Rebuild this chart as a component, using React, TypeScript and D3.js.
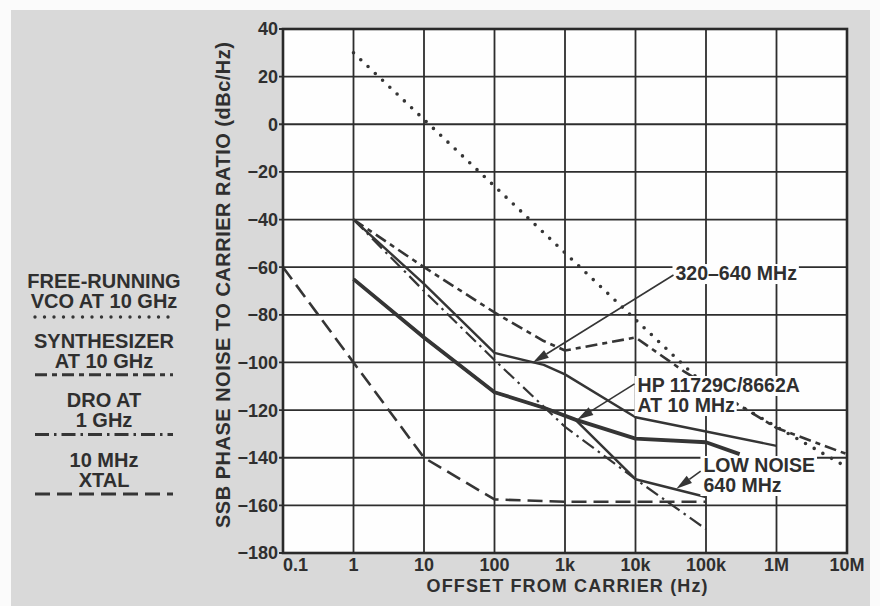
import React from "react";
import * as d3 from "d3";

// ---- axis ticks ----
const freqTicks = [0.1, 1, 10, 100, 1e3, 1e4, 1e5, 1e6, 1e7];
const freqTickLabels = ["0.1", "1", "10", "100", "1k", "10k", "100k", "1M", "10M"];
const noiseTicks = [40, 20, 0, -20, -40, -60, -80, -100, -120, -140, -160, -180];

// ---- series (offset Hz, dBc/Hz) ----
const vcoFreq = [1, 10, 100, 1e3, 1e4, 1e5, 1e6, 1e7];
const vcoNoise = [30, 2, -26, -54, -82, -110, -127, -144];

const synthFreq = [1, 10, 100, 500, 1e3, 1e4, 5e4, 1e6, 1e7];
const synthNoise = [-40, -60, -79, -91, -95, -89.5, -104, -127.5, -138.5];

const droFreq = [1, 10, 100, 1e3, 1e4, 1e5];
const droNoise = [-40, -70, -99, -127, -149, -170];

const xtalFreq = [0.1, 1, 10, 100, 1e3, 1e5];
const xtalNoise = [-60, -100, -140, -157.5, -158.5, -158.5];

const mhz320Freq = [1, 10, 100, 500, 1e3, 1e4, 1e5, 1e6];
const mhz320Noise = [-40, -67, -96, -101, -105, -123, -129, -135];

const lowNoiseFreq = [1, 10, 100, 500, 1400, 1e4, 1e5];
const lowNoiseNoise = [-65, -89.5, -112.5, -119, -124, -149, -156.5];

const hpFreq = [1, 10, 100, 500, 1400, 1e4, 1e5, 3e5];
const hpNoise = [-65, -89.5, -112.5, -119, -124, -132, -133.5, -138.5];

// ---- legend & annotations ----
const legendLabels = [
  ["FREE-RUNNING", "VCO AT 10 GHz"],
  ["SYNTHESIZER", "AT 10 GHz"],
  ["DRO AT", "1 GHz"],
  ["10 MHz", "XTAL"],
];
const annotLines = [["320–640 MHz"], ["HP 11729C/8662A", "AT 10 MHz"], ["LOW NOISE", "640 MHz"]];
const annotTextAt = [[36900, -65.4], [10700, -112.4], [92000, -146]];
const annotLeaderFrom = [[34600, -63.3], [9700, -109], [84000, -145.6]];
const annotLeaderTo = [[350, -100], [1500, -124], [38000, -153]];

const FONT = '"Liberation Sans", Arial, Helvetica, sans-serif';
const INK = "#2f2f2f";
const CURVE = "#353535";

function measure(s: string, size: number) {
  const c = document.createElement("canvas").getContext("2d");
  if (!c) return s.length * size * 0.6;
  c.font = `bold ${size}px ${FONT}`;
  return c.measureText(s).width;
}

export default function App() {
  const W = 880, H = 606;
  const L = 283, R = 847, T = 29, B = 553;
  const x = d3.scaleLog().domain([0.1, 1e7]).range([L, R]);
  const y = d3.scaleLinear().domain([-180, 40]).range([B, T]);
  const line = d3.line<[number, number]>().x((d) => x(d[0])).y((d) => y(d[1]));
  const zip = (f: number[], v: number[]) => f.map((ff, i) => [ff, v[i]] as [number, number]);

  const vcoStyle = { dash: "0 10", width: 3.6, cap: "round" as const };
  const synthStyle = { dash: "12 5 5 5", width: 2.6, cap: "butt" as const };
  const droStyle = { dash: "14 5 2.5 5", width: 2.2, cap: "butt" as const };
  const xtalStyle = { dash: "15 7", width: 2.6, cap: "butt" as const };

  const series = [
    { d: zip(vcoFreq, vcoNoise), ...vcoStyle },
    { d: zip(synthFreq, synthNoise), ...synthStyle },
    { d: zip(droFreq, droNoise), ...droStyle },
    { d: zip(xtalFreq, xtalNoise), ...xtalStyle },
    { d: zip(mhz320Freq, mhz320Noise), dash: undefined, width: 2.4, cap: "butt" as const },
    { d: zip(lowNoiseFreq, lowNoiseNoise), dash: undefined, width: 2.5, cap: "butt" as const },
    { d: zip(hpFreq, hpNoise), dash: undefined, width: 3.8, cap: "butt" as const },
  ];
  const legendStyles = [vcoStyle, synthStyle, droStyle, xtalStyle];

  const annFont = 19.5;

  return (
    <svg width={W} height={H} style={{ position: "absolute", left: 0, top: 0 }} fontFamily={FONT} fontWeight="bold">
      <rect x={0} y={0} width={W} height={H} fill="#fbfbfb" />
      <rect x={11} y={10} width={859} height={596} fill="#d9d9d9" />
      <rect x={L} y={T} width={R - L} height={B - T} fill="#fefefe" />

      {/* grid */}
      {freqTicks.map((f, i) => (
        <line key={"vx" + i} x1={x(f)} x2={x(f)} y1={T} y2={B} stroke="#2e2e2e" strokeWidth={1.8} />
      ))}
      {noiseTicks.map((v, i) => (
        <line key={"hy" + i} x1={L - 4} x2={R} y1={y(v)} y2={y(v)} stroke="#2e2e2e" strokeWidth={1.8} />
      ))}

      {/* curves */}
      {series.map((s, i) => (
        <path
          key={"s" + i}
          d={line(s.d) || ""}
          fill="none"
          stroke={CURVE}
          strokeWidth={s.width}
          strokeDasharray={s.dash}
          strokeLinecap={s.cap}
          strokeLinejoin="round"
        />
      ))}

      {/* annotations */}
      {annotLines.map((lines, i) => {
        const tx = x(annotTextAt[i][0]);
        const ty = y(annotTextAt[i][1]);
        const sx = x(annotLeaderFrom[i][0]);
        const sy = y(annotLeaderFrom[i][1]);
        const ex = x(annotLeaderTo[i][0]);
        const ey = y(annotLeaderTo[i][1]);
        const dx = ex - sx, dy = ey - sy;
        const len = Math.hypot(dx, dy);
        const ux = dx / len, uy = dy / len;
        const nx = -uy, ny = ux;
        const AL = 16, AW = 9;
        const bx = ex - ux * AL, by = ey - uy * AL;
        const tri = `${ex},${ey} ${bx + (nx * AW) / 2},${by + (ny * AW) / 2} ${bx - (nx * AW) / 2},${by - (ny * AW) / 2}`;
        return (
          <g key={"a" + i}>
            {lines.map((t, j) => (
              <rect
                key={"r" + j}
                x={tx - 3}
                y={ty + j * 20 - 16}
                width={measure(t, annFont) + 5}
                height={20}
                fill="#fefefe"
              />
            ))}
            {lines.map((t, j) => (
              <text key={"t" + j} x={tx} y={ty + j * 20} fontSize={annFont} fill={INK}>
                {t}
              </text>
            ))}
            <line x1={sx} y1={sy} x2={bx} y2={by} stroke={CURVE} strokeWidth={1.6} />
            <polygon points={tri} fill={CURVE} />
          </g>
        );
      })}

      {/* frame */}
      <rect x={L} y={T} width={R - L} height={B - T} fill="none" stroke="#2a2a2a" strokeWidth={2.6} />

      {/* tick labels */}
      {noiseTicks.map((v, i) => (
        <text key={"yl" + i} x={L - 5} y={y(v)} dy="0.36em" textAnchor="end" fontSize={18} fill={INK}>
          {v < 0 ? "−" + Math.abs(v) : String(v)}
        </text>
      ))}
      {freqTicks.map((f, i) => (
        <text
          key={"xl" + i}
          x={x(f)}
          y={571}
          textAnchor={i === 0 ? "start" : "middle"}
          fontSize={18}
          fill={INK}
        >
          {freqTickLabels[i]}
        </text>
      ))}

      {/* axis titles */}
      <text x={567} y={592} textAnchor="middle" fontSize={18} fill={INK} textLength={281} lengthAdjust="spacing">
        OFFSET FROM CARRIER (Hz)
      </text>
      <text
        transform={`translate(230,285) rotate(-90)`}
        textAnchor="middle"
        fontSize={20}
        fill={INK}
        textLength={486}
        lengthAdjust="spacing"
      >
        SSB PHASE NOISE TO CARRIER RATIO (dBc/Hz)
      </text>

      {/* legend */}
      {legendLabels.map((lab, i) => {
        const base = 288 + i * 59.7;
        const st = legendStyles[i];
        return (
          <g key={"lg" + i}>
            {lab.map((t, j) => (
              <text key={j} x={104} y={base + j * 20} textAnchor="middle" fontSize={20} fill={INK}>
                {t}
              </text>
            ))}
            <line
              x1={35}
              x2={173}
              y1={base + (i === 0 ? 29 : 27)}
              y2={base + (i === 0 ? 29 : 27)}
              stroke={CURVE}
              strokeWidth={i === 0 ? 3.4 : 3}
              strokeDasharray={i === 0 ? "0 9.5" : st.dash}
              strokeLinecap={st.cap}
            />
          </g>
        );
      })}
    </svg>
  );
}
